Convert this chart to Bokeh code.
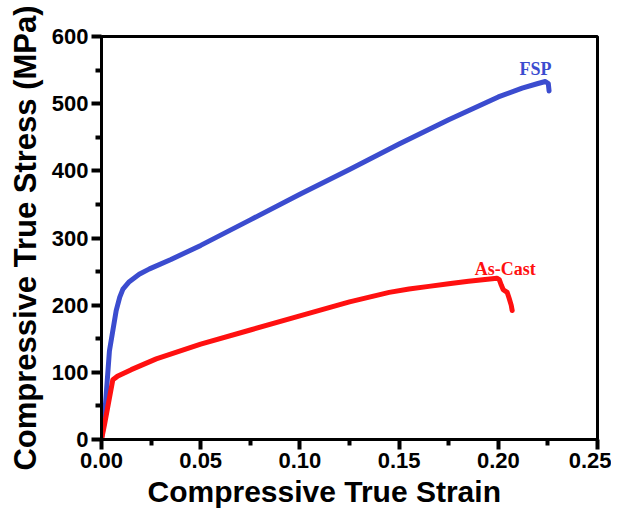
from bokeh.plotting import figure
from bokeh.models import FixedTicker, Range1d, Title
from bokeh.core.properties import value
from bokeh.embed import file_html
from bokeh.resources import INLINE

# FSP curve (strain, stress MPa)
fsp_strain = [0.0, 0.0015, 0.004, 0.0074, 0.0092, 0.0108, 0.014, 0.019, 0.0242, 0.035,
              0.05, 0.075, 0.1, 0.125, 0.15, 0.175, 0.2, 0.212, 0.22, 0.2237, 0.2252, 0.2256]
fsp_stress = [0, 32, 132, 192, 212, 224, 235, 246, 254, 268,
              289, 327, 365, 402, 440, 476, 510, 523, 530, 533, 530, 519]

# As-Cast curve
cast_strain = [0.0, 0.0015, 0.0057, 0.008, 0.015, 0.0276, 0.05, 0.075, 0.1, 0.125, 0.135, 0.145,
               0.155, 0.165, 0.175, 0.185, 0.1993, 0.2005, 0.2015, 0.2025, 0.2045, 0.2055, 0.2065, 0.207]
cast_stress = [0, 22, 89, 94, 104, 120, 142, 163, 184, 205, 212, 219,
               224, 228, 232, 235.5, 240, 238, 230, 223, 219, 210, 200, 192]

x_ticks = [0.0, 0.05, 0.10, 0.15, 0.20, 0.25]
x_minor = [0.025, 0.075, 0.125, 0.175, 0.225]
y_ticks = [0, 100, 200, 300, 400, 500, 600]
y_minor = [50, 150, 250, 350, 450, 550]

labels = ["FSP", "As-Cast"]
label_x = [0.2187, 0.2035]
label_y = [551, 254]
label_colors = ["#3B4CCF", "#FF1010"]

x_title = "Compressive True Strain"
y_title = "Compressive True Stress (MPa)"

p = figure(width=611, height=509, output_backend="svg", toolbar_location=None,
           x_range=Range1d(0, 0.25), y_range=Range1d(0, 600),
           min_border_left=101, min_border_right=14, min_border_top=36, min_border_bottom=0)

p.line(fsp_strain, fsp_stress, line_color="#3B4CCF", line_width=5, line_join="round", line_cap="round")
p.line(cast_strain, cast_stress, line_color="#FF1010", line_width=5, line_join="round", line_cap="round")

p.text(x=label_x, y=label_y, text=labels, text_color=label_colors,
       text_font=value("Liberation Serif"), text_font_style="bold", text_font_size="18px",
       text_align="center", text_baseline="middle")

p.grid.visible = False
p.background_fill_color = "white"
p.border_fill_color = "white"
p.outline_line_color = "black"
p.outline_line_width = 3

p.xaxis.ticker = FixedTicker(ticks=x_ticks, minor_ticks=x_minor)
p.yaxis.ticker = FixedTicker(ticks=y_ticks, minor_ticks=y_minor)
p.xaxis.major_label_overrides = {t: f"{t:.2f}" for t in x_ticks}

for ax in (p.xaxis, p.yaxis):
    ax.axis_line_width = 3
    ax.axis_line_color = "black"
    ax.major_tick_line_color = "black"
    ax.minor_tick_line_color = "black"
    ax.major_tick_line_width = 4
    ax.minor_tick_line_width = 4
    ax.major_tick_out = 10
    ax.major_tick_in = 0
    ax.minor_tick_out = 6
    ax.minor_tick_in = 0
    ax.major_label_text_font = "Liberation Sans"
    ax.major_label_text_font_style = "bold"
    ax.major_label_text_font_size = "22px"
    ax.major_label_text_color = "black"
    ax.axis_label_text_font = "Liberation Sans"
    ax.axis_label_text_font_style = "bold"
    ax.axis_label_text_color = "black"

p.yaxis.axis_label_text_font_size = "31px"
p.yaxis.axis_label = y_title
p.xaxis.major_label_standoff = 3
p.yaxis.major_label_standoff = 3
p.yaxis.axis_label_standoff = 6

xt = Title(text=x_title, align="left", offset=46, standoff=4,
           text_font="Liberation Sans", text_font_style="bold",
           text_font_size="30px", text_color="black")
p.add_layout(xt, "below")

open("out.html", "w").write(file_html(p, INLINE))
